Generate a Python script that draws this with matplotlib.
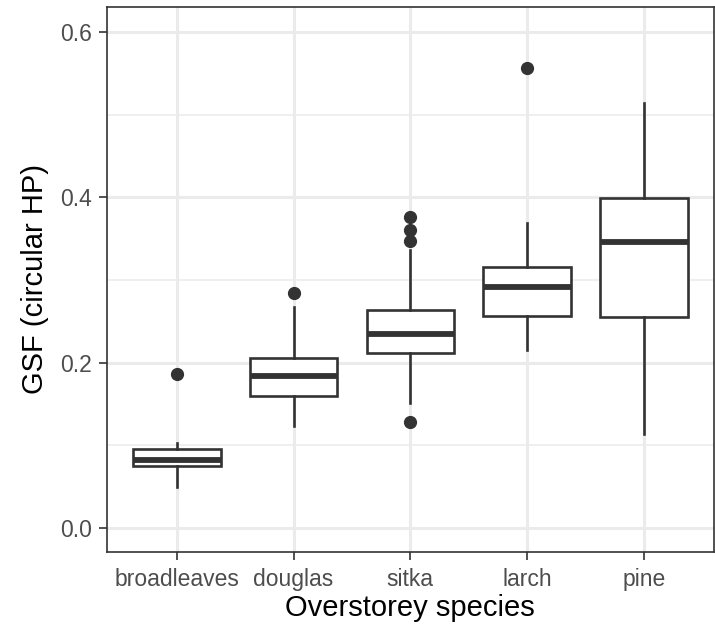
import matplotlib
matplotlib.use("Agg")
import matplotlib.pyplot as plt
from matplotlib.ticker import MultipleLocator

plt.rcParams["font.family"] = ["Liberation Sans", "DejaVu Sans"]

# Box-plot summaries of gap light fraction per overstorey species
species = ["broadleaves", "douglas", "sitka", "larch", "pine"]
lower_whisker = [0.049, 0.123, 0.151, 0.215, 0.114]
q1 = [0.075, 0.160, 0.212, 0.256, 0.255]
median = [0.082, 0.184, 0.235, 0.291, 0.346]
q3 = [0.095, 0.205, 0.263, 0.316, 0.399]
upper_whisker = [0.102, 0.267, 0.336, 0.369, 0.514]
outliers = [[0.186], [0.284], [0.128, 0.347, 0.361, 0.376], [0.557], []]
y_ticks = [0.0, 0.2, 0.4, 0.6]

DARK = "#333333"
GRID = "#EBEBEB"

fig = plt.figure(figsize=(7.15, 6.3), dpi=100)
ax = fig.add_axes([106.7 / 715, (630 - 551.7) / 630,
                   (714 - 106.7) / 715, (551.7 - 7.3) / 630])

stats = []
for i, name in enumerate(species):
    stats.append(dict(label=name, med=median[i], q1=q1[i], q3=q3[i],
                      whislo=lower_whisker[i], whishi=upper_whisker[i],
                      fliers=outliers[i]))

positions = list(range(1, len(species) + 1))
ax.bxp(stats, positions=positions, widths=0.75, patch_artist=True,
       showcaps=False,
       boxprops=dict(facecolor="white", edgecolor=DARK, linewidth=1.9),
       medianprops=dict(color=DARK, linewidth=4.2, solid_capstyle="butt"),
       whiskerprops=dict(color=DARK, linewidth=1.9),
       flierprops=dict(marker="o", markerfacecolor=DARK,
                       markeredgecolor=DARK, markersize=8.5))

ax.set_xlim(0.4, 5.6)
ax.set_ylim(-0.029, 0.630)
ax.set_xticks(positions)
ax.set_xticklabels(species)
ax.set_yticks(y_ticks)
ax.set_yticklabels([f"{v:.1f}" for v in y_ticks])
ax.yaxis.set_minor_locator(MultipleLocator(0.1))

ax.set_axisbelow(True)
ax.grid(which="major", color=GRID, linewidth=2.2)
ax.grid(which="minor", axis="y", color=GRID, linewidth=1.1)

ax.tick_params(which="major", length=5.8, width=1.2, color=DARK,
               labelcolor="#4D4D4D", labelsize=16.5)
ax.tick_params(axis="x", which="major", pad=6)
ax.tick_params(axis="y", which="major", pad=5)
ax.tick_params(which="minor", length=0)
for sp in ax.spines.values():
    sp.set_color(DARK)
    sp.set_linewidth(1.2)

ax.set_xlabel("Overstorey species", fontsize=21, color="black", labelpad=2)
ax.set_ylabel("GSF (circular HP)", fontsize=21, color="black", labelpad=8)

fig.savefig("out.png", dpi=100, facecolor="white")
